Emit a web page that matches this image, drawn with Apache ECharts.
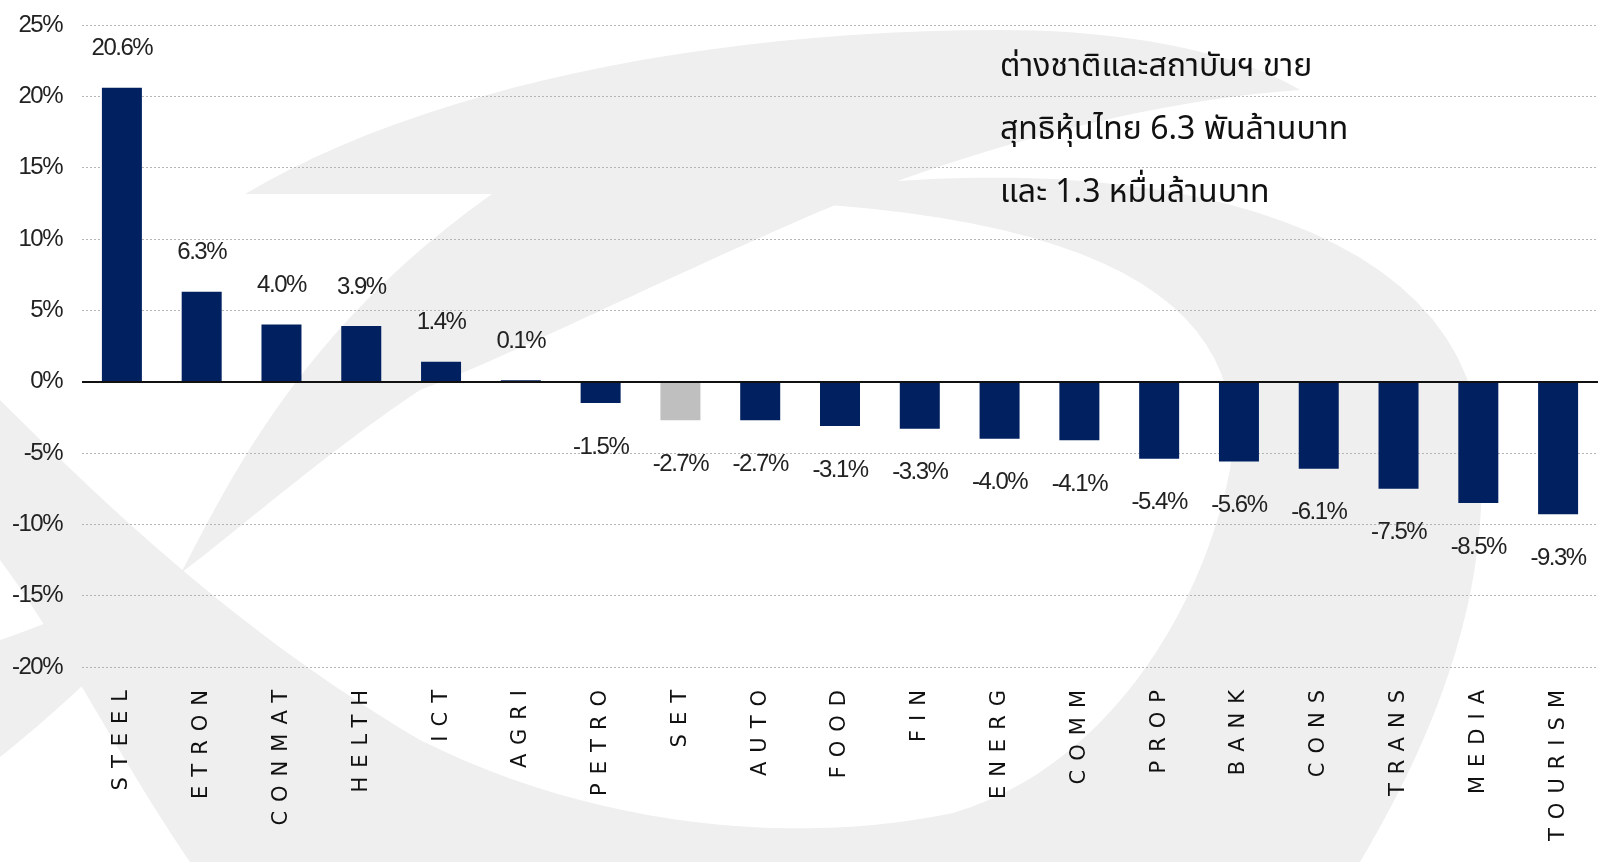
<!DOCTYPE html>
<html>
<head>
<meta charset="utf-8">
<script src="https://cdn.jsdelivr.net/npm/echarts@6/dist/echarts.min.js"></script>
<style>
  html, body { margin: 0; padding: 0; background: #fff; }
  #main { width: 1598px; height: 862px; }
</style>
</head>
<body>
<div id="main"></div>
<script>
var categories = ['STEEL', 'ETRON', 'CONMAT', 'HELTH', 'ICT', 'AGRI', 'PETRO', 'SET', 'AUTO', 'FOOD',
    'FIN', 'ENERG', 'COMM', 'PROP', 'BANK', 'CONS', 'TRANS', 'MEDIA', 'TOURISM'];
var values = [20.6, 6.3, 4.0, 3.9, 1.4, 0.1, -1.5, -2.7, -2.7, -3.1,
    -3.3, -4.0, -4.1, -5.4, -5.6, -6.1, -7.5, -8.5, -9.3];
var highlight = 'SET';
var noteLines = ['ต่างชาติและสถาบันฯ ขาย', 'สุทธิหุ้นไทย 6.3 พันล้านบาท', 'และ 1.3 หมื่นล้านบาท'];

var chartDom = document.getElementById('main');
var myChart = echarts.init(chartDom);
var numFont = '"Liberation Sans", Arial, sans-serif';

var barData = [];
for (var i = 0; i < values.length; i++) {
    var v = values[i];
    barData.push({
        value: v,
        itemStyle: { color: categories[i] === highlight ? '#bfbfbf' : '#002060' },
        label: v < 0 ? { position: 'bottom', distance: 32 } : { position: 'top', distance: 27 }
    });
}

// turn a simple "M x y C ... L x y Z" outline into polygon points
function outline(d) {
    var t = d.trim().split(/\s+/);
    var pts = [], cur = [0, 0], k = 0;
    while (k < t.length) {
        var c = t[k++];
        if (c === 'M' || c === 'L') {
            cur = [+t[k], +t[k + 1]]; k += 2;
            pts.push(cur);
        } else if (c === 'C') {
            var p1 = [+t[k], +t[k + 1]], p2 = [+t[k + 2], +t[k + 3]], p3 = [+t[k + 4], +t[k + 5]];
            k += 6;
            for (var s = 1; s <= 24; s++) {
                var u = s / 24, w = 1 - u;
                pts.push([
                    w * w * w * cur[0] + 3 * w * w * u * p1[0] + 3 * w * u * u * p2[0] + u * u * u * p3[0],
                    w * w * w * cur[1] + 3 * w * w * u * p1[1] + 3 * w * u * u * p2[1] + u * u * u * p3[1]
                ]);
            }
            cur = p3;
        }
    }
    return pts;
}

// light grey logo watermark behind the chart
var wm = '#efefef';
var shapes = [
    'M 0 400 C 120 520 250 640 420 740 C 600 830 800 845 953 813 C 1100 770 1200 620 1230 470 C 1250 330 1150 230 830 205 L 850 185 C 1200 150 1450 240 1478 420 C 1500 600 1420 760 1360 862 L 190 862 C 120 760 60 640 0 560 Z',
    'M 245 194 C 420 90 700 30 1000 30 C 1150 30 1250 60 1300 90 C 1150 100 960 150 800 220 C 640 290 500 360 420 390 C 330 450 250 520 181 573 C 230 480 300 330 492 194 Z',
    'M 0 640 C 60 620 120 590 175 568 L 192 585 C 130 640 60 710 0 757 Z'
];
var graphics = shapes.map(function (d) {
    return { type: 'polygon', z: -10, silent: true, shape: { points: outline(d) }, style: { fill: wm } };
});
graphics.push({
    type: 'text', z: 10, left: 1000, top: 38,
    style: {
        text: noteLines.join('\n'),
        font: '32px "Noto Sans Thai", "Noto Sans", "DejaVu Sans", sans-serif',
        lineHeight: 63,
        fill: '#111'
    }
});

var option = {
    backgroundColor: '#fff',
    animation: false,
    graphic: graphics,
    grid: {
        left: 82,
        top: 25,
        bottom: 195,
        width: 1526
    },
    xAxis: {
        type: 'category',
        data: categories,
        zlevel: 1,
        axisLine: { show: false, onZero: false },
        axisTick: { show: false },
        axisLabel: {
            rotate: 90,
            margin: 14,
            interval: 0,
            color: '#111',
            fontSize: 21,
            fontFamily: '"DejaVu Sans", Verdana, sans-serif'
        }
    },
    yAxis: {
        type: 'value',
        min: -20,
        max: 25,
        interval: 5,
        zlevel: 2,
        axisLine: { show: false },
        axisTick: { show: false },
        axisLabel: {
            formatter: '{value}%',
            margin: 20,
            color: '#222',
            fontSize: 24,
            fontFamily: numFont
        },
        splitLine: {
            lineStyle: { color: '#b5b5b5', width: 1, type: [2, 2] }
        }
    },
    series: [
        {
            type: 'bar',
            zlevel: 2,
            data: barData,
            barWidth: 40,
            label: {
                show: true,
                formatter: function (p) { return p.value.toFixed(1) + '%'; },
                color: '#222',
                fontSize: 24,
                fontFamily: numFont
            },
            markLine: {
                zlevel: 2,
                z: 5,
                silent: true,
                symbol: 'none',
                label: { show: false },
                lineStyle: { color: '#111', width: 2, type: 'solid' },
                data: [{ yAxis: 0 }]
            }
        }
    ]
};

option && myChart.setOption(option);

// sector names are widely letter-spaced, the numbers are tight and narrow;
// each group sits on its own layer so the spacing only touches it
var zr = myChart.getZr();
var spacing = { 1: '9px', 2: '-1.5px' };
Object.keys(spacing).forEach(function (lv) {
    var layer = zr.painter.getLayer(+lv);
    if (layer && layer.ctx && 'letterSpacing' in layer.ctx) {
        layer.ctx.letterSpacing = spacing[lv];
    }
});
zr.painter.refresh(true);
</script>
</body>
</html>
